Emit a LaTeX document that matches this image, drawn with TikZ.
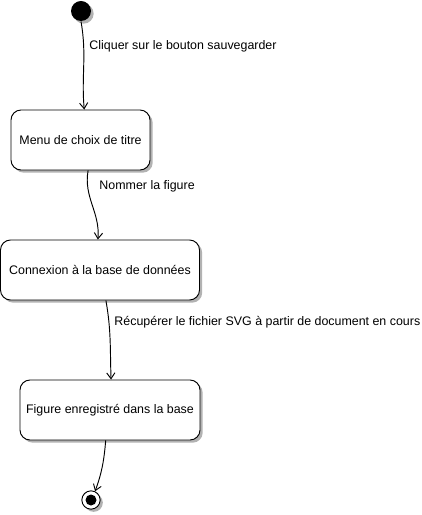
\documentclass[tikz,border=0pt]{standalone}
\usepackage{fontspec}
\setmainfont{Liberation Sans}
\usetikzlibrary{arrows.meta}
\usetikzlibrary{shadows}

\begin{document}
\begin{tikzpicture}[x=0.03cm, y=-0.03cm, line width=0.8pt,
		etat/.style={draw, rounded corners=0.3cm, fill=white, minimum height=1.8cm, align=center,
			drop shadow={shadow xshift=0.08cm, shadow yshift=-0.08cm, fill=black!30, opacity=1}},
		trans/.style={-{Straight Barb[length=5pt, width=7pt]}},
		lbl/.style={anchor=west, inner sep=0pt}]
		\useasboundingbox (0, 0) rectangle (421, 515);
		\fontsize{10.6}{12.5}\selectfont
		\node[circle, fill=black, minimum size=0.6cm, inner sep=0pt,
			drop shadow={shadow xshift=0.08cm, shadow yshift=-0.08cm, fill=black!30, opacity=1}] (debut) at (81, 11) {};
		\node[etat, minimum width=4.17cm] (menu) at (80.5, 140) {Menu de choix de titre};
		\node[etat, minimum width=5.97cm] (connexion) at (100, 270) {Connexion à la base de données};
		\node[etat, minimum width=5.4cm] (figure) at (110, 410) {Figure enregistré dans la base};
		\node[circle, draw, fill=white, minimum size=0.55cm, inner sep=0pt,
			drop shadow={shadow xshift=0.08cm, shadow yshift=-0.08cm, fill=black!30, opacity=1}] (fin) at (91, 500) {};
		\fill (fin) circle (5.5);
		\draw[trans] (debut.south) to[out=-80, in=95] (menu.83);
		\draw[trans] (menu.-76) to[out=-100, in=85] (connexion.94);
		\draw[trans] (connexion.-79) to[out=-80, in=92] (figure.88);
		\draw[trans] (figure.-98) to[out=-95, in=70] (fin.65);
		\node[lbl] (l1) at (89, 46) {Cliquer sur le bouton sauvegarder};
		\node[lbl] (l2) at (99, 186) {Nommer la figure};
		\node[lbl] (l3) at (114, 322) {Récupérer le fichier SVG à partir de document en cours};
	\end{tikzpicture}
\end{document}
